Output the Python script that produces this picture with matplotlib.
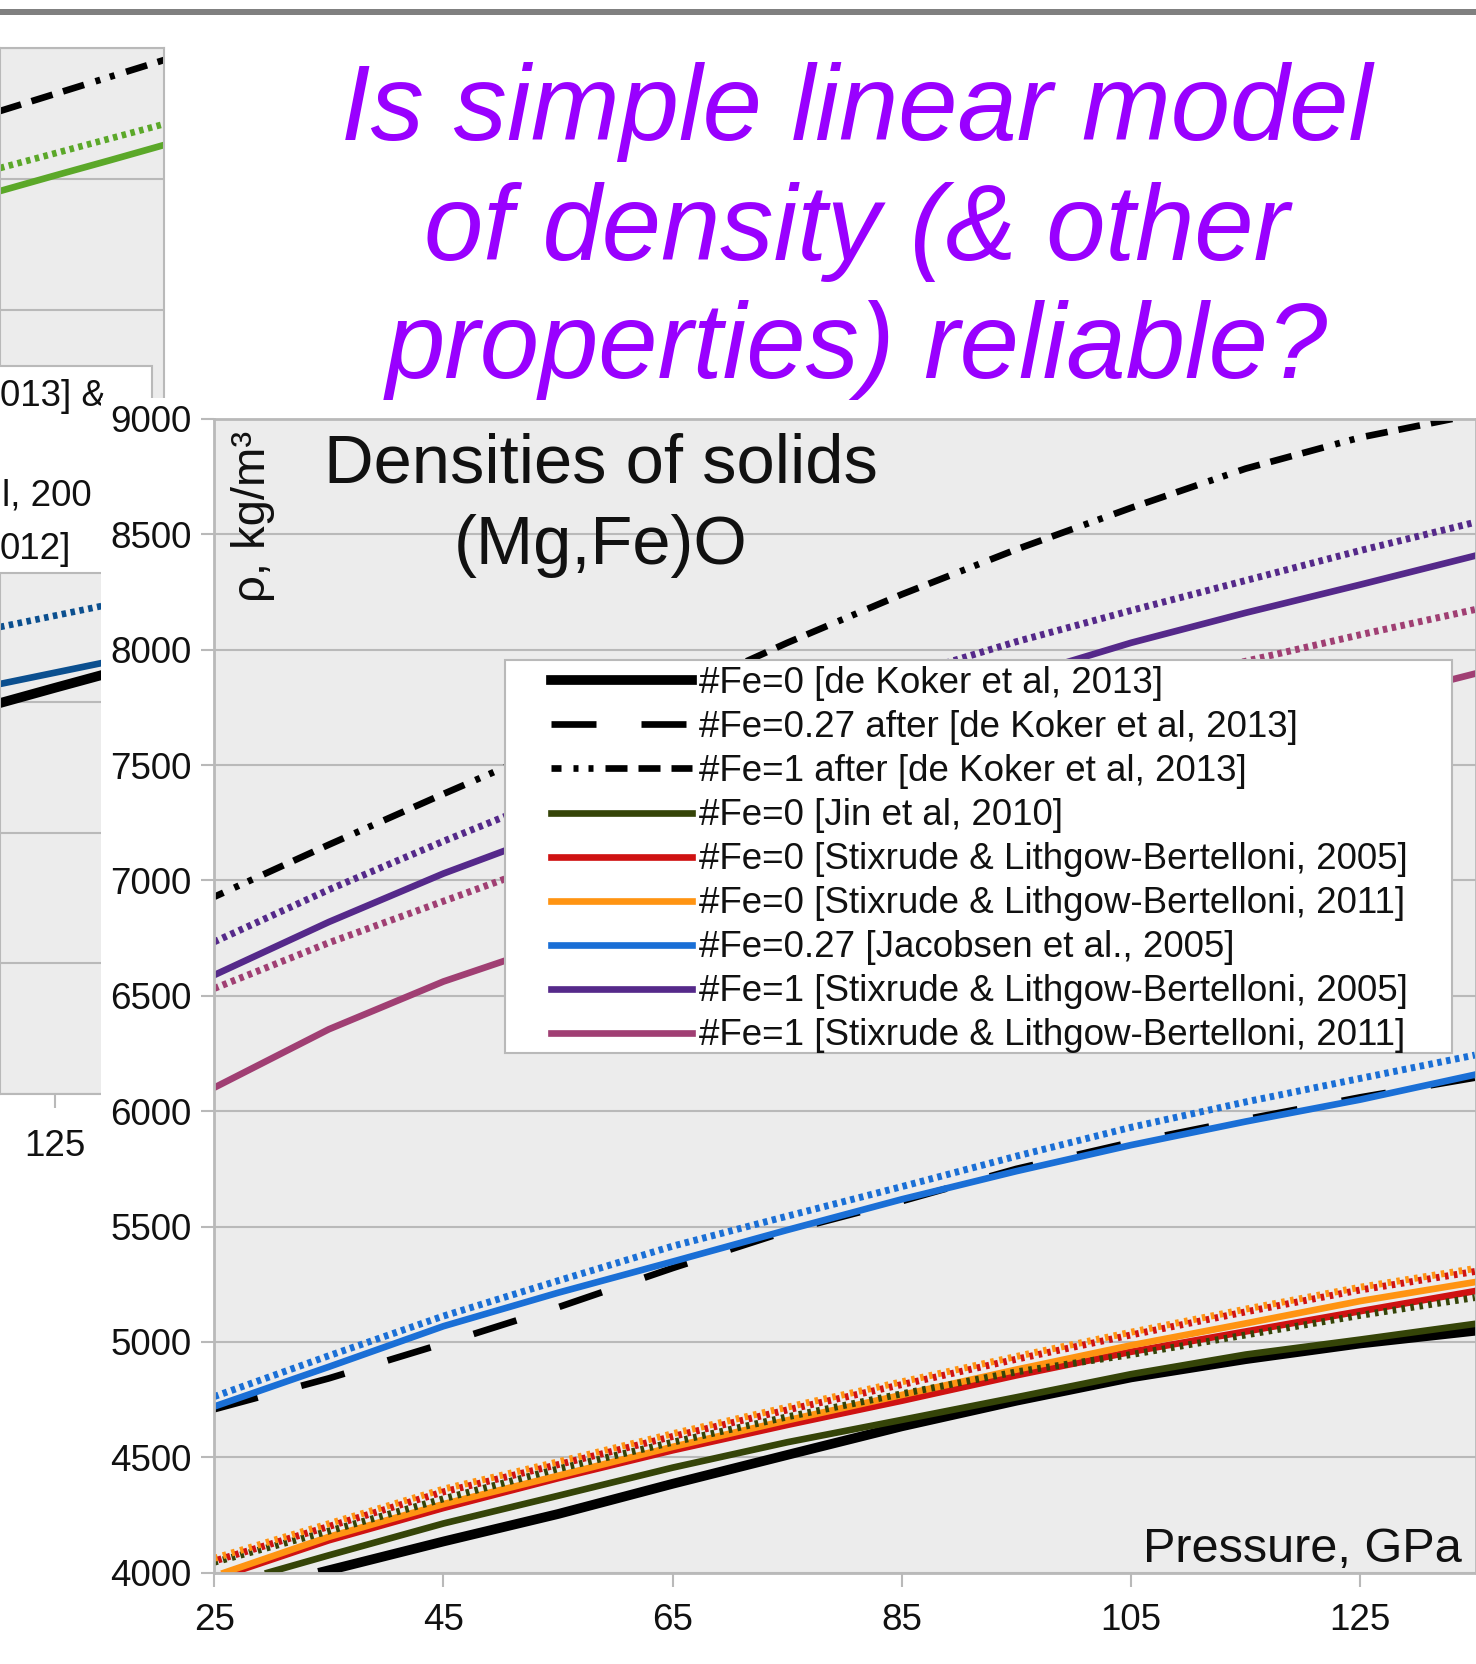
import matplotlib
matplotlib.use('Agg')
import matplotlib.pyplot as plt
from matplotlib.patches import Rectangle
import numpy as np

plt.rcParams['font.family'] = ['Liberation Sans', 'DejaVu Sans']

W, H, DPI = 1476, 1664, 100

# ---------------- main chart data (Pressure GPa, density kg/m^3) ----------------
P = [25, 35, 45, 55, 65, 75, 85, 95, 105, 115, 125, 135]

P_dk0 = [34.5, 45, 55, 65, 75, 85, 95, 105, 115, 125, 135]
rho_dk0 = [4004, 4135, 4254, 4385, 4510, 4634, 4745, 4846, 4925, 4993, 5048]
rho_dk027 = [4708, 4842, 4993, 5150, 5320, 5480, 5610, 5750, 5865, 5965, 6060, 6145]
rho_dk1 = [6929, 7155, 7375, 7590, 7805, 8030, 8240, 8435, 8615, 8785, 8920, 9020]
P_jin = [29.7, 35, 45, 55, 65, 75, 85, 95, 105, 115, 125, 135]
rho_jin = [4000, 4075, 4213, 4333, 4455, 4565, 4662, 4760, 4860, 4945, 5010, 5078]
P_slb05_0 = [26.6, 35, 45, 55, 65, 75, 85, 95, 105, 115, 125, 135]
rho_slb05_0 = [4000, 4140, 4280, 4409, 4530, 4640, 4745, 4855, 4957, 5045, 5133, 5220]
P_slb11_0 = [25.9, 35, 45, 55, 65, 75, 85, 95, 105, 115, 125, 135]
rho_slb11_0 = [4000, 4155, 4297, 4420, 4545, 4660, 4770, 4880, 4985, 5080, 5177, 5259]
rho_jac027 = [4720, 4892, 5068, 5213, 5348, 5485, 5618, 5740, 5853, 5955, 6050, 6158]
rho_slb05_1 = [6590, 6820, 7030, 7215, 7385, 7555, 7720, 7880, 8030, 8160, 8282, 8407]
rho_slb11_1 = [6102, 6355, 6562, 6730, 6880, 7030, 7180, 7330, 7480, 7630, 7770, 7896]

# dotted (linear-model) curves, not in legend
rho_lin_jac027 = [4763, 4940, 5112, 5265, 5415, 5545, 5673, 5805, 5930, 6040, 6142, 6243]
rho_lin_slb05_1 = [6734, 6960, 7170, 7370, 7560, 7730, 7885, 8035, 8170, 8300, 8430, 8552]
rho_lin_slb11_1 = [6532, 6730, 6910, 7090, 7260, 7420, 7570, 7710, 7840, 7950, 8065, 8174]
rho_lin_slb11_0 = [4062, 4212, 4362, 4480, 4602, 4717, 4827, 4937, 5042, 5142, 5237, 5318]
rho_lin_slb05_0 = [4050, 4200, 4350, 4468, 4590, 4705, 4815, 4925, 5030, 5130, 5225, 5305]
rho_lin_jin = [4045, 4180, 4320, 4450, 4565, 4675, 4775, 4870, 4945, 5030, 5115, 5192]

labels = [
    "#Fe=0 [de Koker et al, 2013]",
    "#Fe=0.27 after [de Koker et al, 2013]",
    "#Fe=1 after [de Koker et al, 2013]",
    "#Fe=0 [Jin et al, 2010]",
    "#Fe=0 [Stixrude & Lithgow-Bertelloni, 2005]",
    "#Fe=0 [Stixrude & Lithgow-Bertelloni, 2011]",
    "#Fe=0.27 [Jacobsen et al., 2005]",
    "#Fe=1 [Stixrude & Lithgow-Bertelloni, 2005]",
    "#Fe=1 [Stixrude & Lithgow-Bertelloni, 2011]",
]
x_ticks = [25, 45, 65, 85, 105, 125]
y_ticks = [4000, 4500, 5000, 5500, 6000, 6500, 7000, 7500, 8000, 8500, 9000]

# ---------------- partially hidden background chart ----------------
bg_P = [120, 125, 130, 135]
bg_dashdot = [7759, 7824, 7889, 7954]
bg_green_dot = [7541, 7597, 7653, 7709]
bg_green = [7453, 7512, 7570, 7629]
bg_blue_dot = [5786, 5829, 5872, 5915]
bg_blue = [5568, 5611, 5654, 5697]
bg_black = [5495, 5553, 5610, 5668]
bg_xticks = [125]
bg_legend_bits = ["013] &", "l, 200", "012]"]

# ---------------- styling ----------------
GRID = '#b9b9b9'
FACE = '#ececec'
TXT = '#111111'
FS = 26.5
LW = 4.8

def pxdash(lw_pt, pattern_px):
    lw_px = lw_pt / 72 * DPI
    return tuple(p / lw_px for p in pattern_px)

def fx(px):
    return px / W

def fy(py):
    return 1 - py / H

fig = plt.figure(figsize=(W / DPI, H / DPI), dpi=DPI)
fig.patch.set_facecolor('white')

# top gray bar
fig.add_artist(Rectangle((0, fy(15)), 1, 6 / H, transform=fig.transFigure,
                         facecolor='#808080', edgecolor='none', zorder=4))

# background chart
bg = fig.add_axes([0, fy(1094), 164 / W, 1046 / H])
bg.set_zorder(0)
bg.set_facecolor(FACE)
bg.set_xlim(120, 135)
bg.set_ylim(4000, 8000)
bg.set_yticks(np.arange(4000, 8001, 500))
bg.set_yticklabels([])
bg.tick_params(axis='y', length=0)
bg.set_xticks(bg_xticks)
bg.set_xticklabels([str(t) for t in bg_xticks])
bg.tick_params(axis='x', length=10, width=1.5, color=GRID, labelsize=FS,
               labelcolor=TXT, pad=15.5)
bg.grid(axis='y', color=GRID, lw=1.5)
bg.set_axisbelow(True)
for s in bg.spines.values():
    s.set_color(GRID)
    s.set_linewidth(1.5)
bg.plot(bg_P, bg_dashdot, color='black', lw=LW,
        dashes=pxdash(LW, [22, 11, 22, 11, 22, 12, 5, 10, 5, 12]))
bg.plot(bg_P, bg_green_dot, color='#5ba829', lw=LW, dashes=pxdash(LW, [4.5, 4.5]))
bg.plot(bg_P, bg_green, color='#5ba829', lw=LW)
bg.plot(bg_P, bg_blue_dot, color='#0b4f8f', lw=LW, dashes=pxdash(LW, [4.5, 4.5]))
bg.plot(bg_P, bg_black, color='black', lw=7)
bg.plot(bg_P, bg_blue, color='#0b4f8f', lw=LW)

# background chart legend box and visible text fragments
fig.add_artist(Rectangle((fx(-10), fy(573)), 162 / W, 207 / H, transform=fig.transFigure,
                         facecolor='white', edgecolor=GRID, lw=1.5, zorder=0.5))
for txt, (xp, yp) in zip(bg_legend_bits, [(0, 406), (2, 506), (0, 559)]):
    fig.text(fx(xp), fy(yp), txt, fontsize=FS, color=TXT, ha='left', va='baseline',
             zorder=0.6)

# white panel of the main chart
fig.add_artist(Rectangle((fx(101), 0), (W - 101) / W, fy(398), transform=fig.transFigure,
                         facecolor='white', edgecolor='none', zorder=1))

# ---------------- main chart ----------------
ax = fig.add_axes([fx(214.3), fy(1572.6), (W - 214.3) / W, 1153.6 / H])
ax.set_zorder(2)
ax.set_facecolor(FACE)
ax.set_xlim(25, 135.1)
ax.set_ylim(4000, 9000)
ax.set_xticks(x_ticks)
ax.set_yticks(y_ticks)
ax.grid(axis='y', color=GRID, lw=1.5)
ax.set_axisbelow(True)
for s in ax.spines.values():
    s.set_color(GRID)
    s.set_linewidth(2)
ax.tick_params(axis='x', length=10, width=1.5, color=GRID, labelsize=FS,
               labelcolor=TXT, pad=11.8)
ax.tick_params(axis='y', length=9.4, width=1.5, color=GRID, labelsize=FS,
               labelcolor=TXT, pad=7)

h = []
h += ax.plot(P_dk0, rho_dk0, color='black', lw=7)
h += ax.plot(P, rho_dk027, color='black', lw=LW, dashes=pxdash(LW, [45, 45]))
h += ax.plot(P, rho_dk1, color='black', lw=LW,
             ls=(pxdash(LW, [78])[0],
                 pxdash(LW, [22, 11, 22, 11, 22, 12, 5, 10, 5, 12])))
h += ax.plot(P_jin, rho_jin, color='#354408', lw=LW)
h += ax.plot(P_slb05_0, rho_slb05_0, color='#cf1212', lw=LW)
h += ax.plot(P_slb11_0, rho_slb11_0, color='#ff9412', lw=LW)
h += ax.plot(P, rho_jac027, color='#1a6fd6', lw=LW)
h += ax.plot(P, rho_slb05_1, color='#55298a', lw=LW)
h += ax.plot(P, rho_slb11_1, color='#a03f73', lw=LW)

DLW = 5.0
dot = pxdash(DLW, [4.5, 4.5])
ax.plot(P, rho_lin_jac027, color='#1a6fd6', lw=DLW, dashes=dot, label='_lin027')
ax.plot(P, rho_lin_slb05_1, color='#55298a', lw=DLW, dashes=dot, label='_lin05_1')
ax.plot(P, rho_lin_slb11_1, color='#a03f73', lw=DLW, dashes=dot, label='_lin11_1')
dot2 = pxdash(DLW, [3.6, 5.4])
ax.plot(P, rho_lin_jin, color='#354408', lw=DLW, dashes=dot2, label='_linjin')
ax.plot(P, rho_lin_slb11_0, color='#ff9412', lw=DLW, dashes=dot2, label='_lin11_0')
ax.plot(P, rho_lin_slb05_0, color='#cf1212', lw=DLW,
        ls=(dot2[0] + 0.2, dot2), label='_lin05_0')

# legend with manual frame
ax.add_patch(Rectangle((0.2304, 0.4504), 0.7506, 0.3406, transform=ax.transAxes,
                       facecolor='white', edgecolor=GRID, lw=1.5, zorder=5))
leg = ax.legend(h, labels, loc='upper left', bbox_to_anchor=(0.2669, 0.7856),
                bbox_transform=ax.transAxes, frameon=False, borderpad=0,
                borderaxespad=0, handlelength=3.83, handletextpad=0.19,
                labelspacing=0.245, fontsize=FS)
leg.set_zorder(6)
for t in leg.get_texts():
    t.set_color(TXT)

ax.text(0.0305, 0.9155, "ρ, kg/m³", transform=ax.transAxes, rotation=90,
        ha='center', va='center', fontsize=34, color=TXT, zorder=7)
ax.text(0.9889, 0.0092, "Pressure, GPa", transform=ax.transAxes, ha='right',
        va='baseline', fontsize=35, color=TXT, zorder=7)

# chart title
fig.text(fx(601), fy(482.8), "Densities of solids", fontsize=49.5, color=TXT,
         ha='center', va='baseline', zorder=3)
fig.text(fx(601), fy(564.5), "(Mg,Fe)O", fontsize=49.5, color=TXT,
         ha='center', va='baseline', zorder=3)

# slide heading
for line, yb in zip(["Is simple linear model", "of density (& other",
                     "properties) reliable?"], [140, 260, 377.5]):
    fig.text(fx(857), fy(yb), line, fontsize=76.8, style='italic', color='#9900ff',
             ha='center', va='baseline', zorder=4)

fig.savefig('out.png', dpi=DPI)
